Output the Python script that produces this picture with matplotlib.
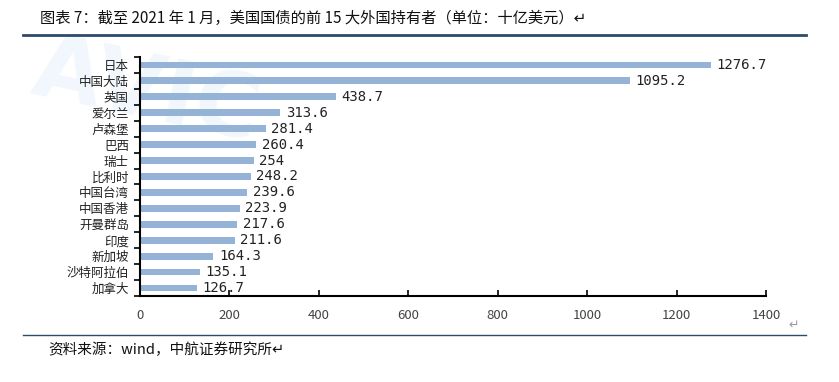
"""
美国国债前15大外国持有者 条形图
"""

import numpy as np
import matplotlib.pyplot as plt
from matplotlib.ticker import FixedLocator

plt.rcParams["font.family"] = ["Noto Sans CJK SC", "DejaVu Sans"]

holders = [
    "日本", "中国大陆", "英国", "爱尔兰", "卢森堡", "巴西", "瑞士", "比利时",
    "中国台湾", "中国香港", "开曼群岛", "印度", "新加坡", "沙特阿拉伯", "加拿大",
]
amounts = [
    1276.7, 1095.2, 438.7, 313.6, 281.4, 260.4, 254, 248.2,
    239.6, 223.9, 217.6, 211.6, 164.3, 135.1, 126.7,
]
value_labels = [
    "1276.7", "1095.2", "438.7", "313.6", "281.4", "260.4", "254", "248.2",
    "239.6", "223.9", "217.6", "211.6", "164.3", "135.1", "126.7",
]
x_ticks = [0, 200, 400, 600, 800, 1000, 1200, 1400]

fig = plt.figure(figsize=(8.39, 3.82), dpi=100)

# ── 水印（淡蓝色，放在最底层） ─────────────────
fig.text(0.03, 0.93, "AVIC", fontsize=64, color="#f1f7fc", fontweight="bold",
         rotation=-12, ha="left", va="top", zorder=-5, family="DejaVu Sans")

ax = fig.add_axes([0.1669, 0.225, 0.746, 0.626])
ax.set_facecolor("none")

n = len(holders)
y = np.arange(n)
ax.barh(y, amounts, height=0.42, color="#94B3D7", zorder=2)
for yi, v, lab in zip(y, amounts, value_labels):
    ax.text(v + 12, yi, lab, va="center", ha="left", fontsize=10,
            color="#222222", family=["DejaVu Sans Mono"])

ax.set_ylim(n - 0.5, -0.5)
ax.set_xlim(0, 1400)
ax.set_yticks(y)
ax.set_yticklabels(holders, fontsize=9, color="#222222")
ax.yaxis.set_minor_locator(FixedLocator(np.arange(-0.5, n, 1)))
ax.tick_params(axis="y", which="major", length=0, pad=8)
ax.tick_params(axis="y", which="minor", length=4, width=1.2, direction="out")

ax.set_xticks(x_ticks)
ax.set_xticklabels([str(t) for t in x_ticks], fontsize=9.5, color="#444444")
ax.tick_params(axis="x", direction="in", length=4, width=1.2, pad=9)

for side in ["top", "right"]:
    ax.spines[side].set_visible(False)
ax.spines["left"].set_linewidth(1.5)
ax.spines["bottom"].set_linewidth(1.5)

# ── 标题与来源 ─────────────────────────────────
fig.text(0.048, 0.952, "图表 7：截至 2021 年 1 月，美国国债的前 15 大外国持有者（单位：十亿美元）↵",
         fontsize=11, ha="left", va="center", color="#111111")
fig.add_artist(plt.Line2D([0.027, 0.961], [0.908, 0.908], color="#2e4a6b",
                          linewidth=2, transform=fig.transFigure))
fig.add_artist(plt.Line2D([0.027, 0.961], [0.123, 0.123], color="#2e4a6b",
                          linewidth=1, transform=fig.transFigure))
fig.text(0.94, 0.148, "↵", fontsize=9, color="#999999", ha="left", va="center")
fig.text(0.057, 0.085, "资料来源：wind，中航证券研究所↵", fontsize=10.5,
         style="italic", ha="left", va="center", color="#111111")

fig.savefig("out.png", dpi=100)
